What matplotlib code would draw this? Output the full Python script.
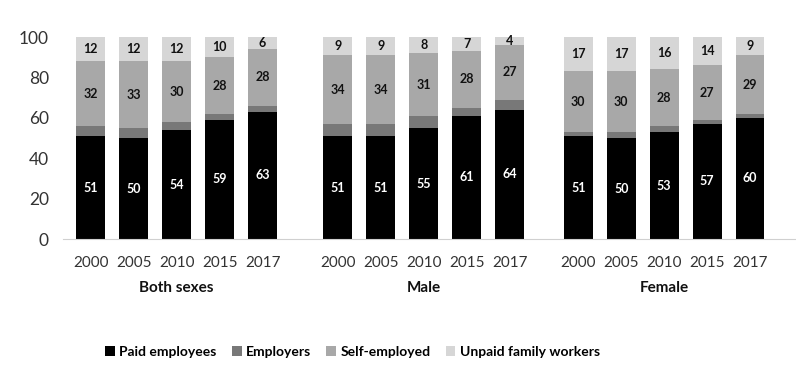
import matplotlib.pyplot as plt
import numpy as np

plt.rcParams['font.family'] = ['Lato', 'DejaVu Sans']

years = ['2000', '2005', '2010', '2015', '2017']
groups = ['Both sexes', 'Male', 'Female']
series = ['Paid employees', 'Employers', 'Self-employed', 'Unpaid family workers']
colors = ['#000000', '#787878', '#a8a8a8', '#d6d6d6']

paid = [51, 50, 54, 59, 63, 51, 51, 55, 61, 64, 51, 50, 53, 57, 60]
employers = [5, 5, 4, 3, 3, 6, 6, 6, 4, 5, 2, 3, 3, 2, 2]
selfemp = [32, 33, 30, 28, 28, 34, 34, 31, 28, 27, 30, 30, 28, 27, 29]
unpaid = [12, 12, 12, 10, 6, 9, 9, 8, 7, 4, 17, 17, 16, 14, 9]

group_offset = [0, 5.75, 11.35]
x = np.array([g + i for g in group_offset for i in range(len(years))])

fig = plt.figure(figsize=(7.96, 3.90), dpi=100)
ax = fig.add_axes([0.079, 0.387, 0.92, 0.518])

data = [paid, employers, selfemp, unpaid]
bottom = np.zeros(len(x))
bars = []
for vals, col, name in zip(data, colors, series):
    b = ax.bar(x, vals, 0.67, bottom=bottom, color=col, label=name)
    bars.append(b)
    bottom += np.array(vals)

# value labels (employers not labelled)
for k, (vals, tc) in enumerate([(paid, 'white'), (None, None), (selfemp, '#111111'), (unpaid, '#111111')]):
    if vals is None:
        continue
    base = np.sum(data[:k], axis=0) if k > 0 else np.zeros(len(x))
    for xi, b0, v in zip(x, base, vals):
        ax.text(xi, b0 + v / 2, str(v), ha='center', va='center', color=tc,
                fontsize=9, fontweight='bold')

ax.set_ylim(0, 100)
ax.set_xlim(-0.65, 16.4)
ax.set_yticks([0, 20, 40, 60, 80, 100])
ax.tick_params(axis='y', length=0, labelsize=12.5, labelcolor='#333333', pad=10)
ax.set_xticks(x)
ax.set_xticklabels(years * 3)
ax.tick_params(axis='x', length=0, labelsize=11, labelcolor='#333333', pad=12)

for s in ['top', 'right', 'left']:
    ax.spines[s].set_visible(False)
ax.spines['bottom'].set_color('#d0d0d0')

for g, name in zip(group_offset, groups):
    ax.text(g + 2, -24, name, ha='center', va='center', fontsize=11,
            fontweight='bold', color='#111111', transform=ax.transData)

fig.legend(handles=bars, labels=series, loc='center', bbox_to_anchor=(0.443, 0.098),
           ncol=4, frameon=False, handlelength=0.7, handleheight=0.7,
           handletextpad=0.3, columnspacing=1.1, prop={'weight': 'bold', 'size': 10})

fig.savefig('out.png', dpi=100)
